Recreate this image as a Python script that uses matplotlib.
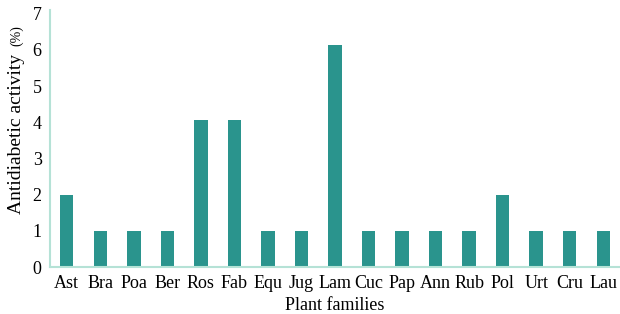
import matplotlib
matplotlib.use("Agg")
import numpy as np
from matplotlib import pyplot as plt

families = ["Ast", "Bra", "Poa", "Ber", "Ros", "Fab", "Equ", "Jug", "Lam",
            "Cuc", "Pap", "Ann", "Rub", "Pol", "Urt", "Cru", "Lau"]
activity = [2, 1, 1, 1, 4.07, 4.07, 1, 1, 6.12, 1, 1, 1, 1, 2, 1, 1, 1]

bar_color = "#2a948d"
spine_color = "#b5e2d6"

plt.rcParams["font.family"] = ["Liberation Serif", "DejaVu Serif"]

fig = plt.figure(figsize=(6.2, 3.14), dpi=100)
ax = fig.add_axes([50 / 620, 47 / 314, 570 / 620, 257 / 314])

x = np.arange(len(families))
ax.bar(x, activity, width=0.4, color=bar_color)

ax.set_xlim(-0.5, len(families) - 0.5)
ax.set_ylim(0, 7.1)
ax.set_yticks(range(8))
ax.set_xticks(x)
ax.set_xticklabels(families)
ax.tick_params(length=0, labelsize=13, pad=6)
ax.tick_params(axis="y", pad=6)

for side in ["top", "right"]:
    ax.spines[side].set_visible(False)
for side in ["left", "bottom"]:
    ax.spines[side].set_color(spine_color)
    ax.spines[side].set_linewidth(1.5)

ax.set_xlabel("Plant families", fontsize=13, labelpad=3)

fig.text(17 / 620, (314 - 134) / 314, "Antidiabetic activity", rotation=90,
         ha="center", va="center", fontsize=14)
fig.text(17 / 620, (314 - 36) / 314, "(%)", rotation=90,
         ha="center", va="center", fontsize=10)

fig.savefig("out.png", dpi=100)
